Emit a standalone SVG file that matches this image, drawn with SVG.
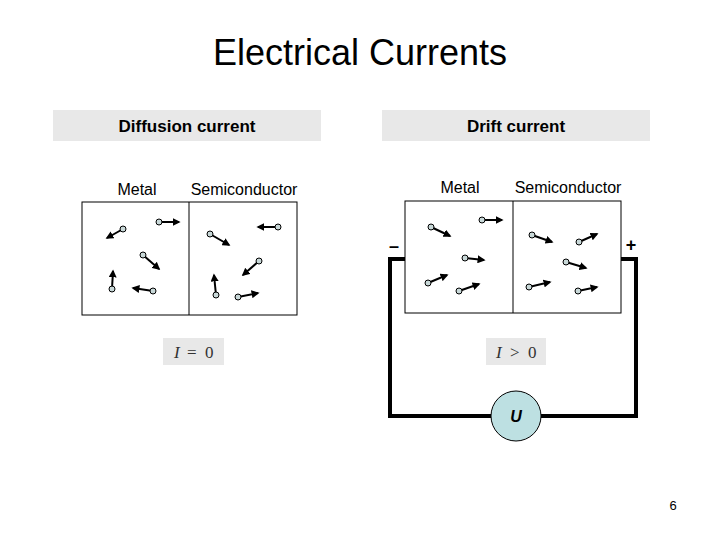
<svg xmlns="http://www.w3.org/2000/svg" width="720" height="540" viewBox="0 0 720 540">
<style>
text{font-family:"Liberation Sans",Arial,sans-serif;fill:#000}
.hdr{fill:#e8e8e8}
.box{fill:#fff;stroke:#000;stroke-width:1}
.p circle{fill:#c8d8d8;stroke:#000;stroke-width:1}
.p line{stroke:#000;stroke-width:2;marker-end:url(#ah)}
.wire{fill:none;stroke:#000;stroke-width:4}
.eq{fill:#e8e8e8}
.mt{font-family:"Liberation Serif",serif;font-size:17px;fill:#333}
</style>
<defs><marker id="ah" viewBox="0 0 10 10" refX="8" refY="5" markerWidth="4" markerHeight="4" orient="auto"><path d="M0,0L10,5L0,10z" fill="#000"/></marker></defs>
<rect width="720" height="540" fill="#fff"/>
<text x="360" y="65" font-size="36" text-anchor="middle">Electrical Currents</text>
<g id="diffusion">
<rect class="hdr" x="53" y="110" width="268" height="31"/>
<text x="187" y="132" font-size="17" font-weight="bold" text-anchor="middle">Diffusion current</text>
<text x="137" y="195" font-size="16" text-anchor="middle">Metal</text>
<text x="244" y="195" font-size="16" text-anchor="middle">Semiconductor</text>
<rect class="box" x="82" y="202" width="215" height="113"/>
<line x1="189" y1="202" x2="189" y2="315" stroke="#000"/>
<rect class="eq" x="163" y="338" width="61" height="27"/>
<text x="174" y="358" class="mt" font-style="italic">I</text>
<text x="187" y="358" class="mt">=</text>
<text x="205" y="358" class="mt">0</text>
</g>
<g id="drift">
<rect class="hdr" x="382" y="110" width="268" height="31"/>
<text x="516" y="132" font-size="17" font-weight="bold" text-anchor="middle">Drift current</text>
<text x="460" y="193" font-size="16" text-anchor="middle">Metal</text>
<text x="568" y="193" font-size="16" text-anchor="middle">Semiconductor</text>
<path class="wire" d="M405,259H390V416H491M541,416H636V259H621"/>
<rect class="box" x="405" y="201" width="216" height="112"/>
<line x1="513" y1="201" x2="513" y2="313" stroke="#000"/>
<text x="394" y="252" font-size="18" font-weight="bold" text-anchor="middle">–</text>
<text x="631" y="251" font-size="18" font-weight="bold" text-anchor="middle">+</text>
<rect class="eq" x="486" y="338" width="60" height="27"/>
<text x="496" y="358" class="mt" font-style="italic">I</text>
<text x="510" y="358" class="mt">&gt;</text>
<text x="528" y="358" class="mt">0</text>
</g>
<g id="source">
<circle cx="516" cy="416" r="25" fill="#bde0e2" stroke="#000" stroke-width="1"/>
<text x="516" y="422" font-size="16" font-weight="bold" font-style="italic" text-anchor="middle">U</text>
</g>
<g id="particles" class="p">
<line x1="123" y1="229" x2="107" y2="238"/><circle cx="123" cy="229" r="3"/>
<line x1="159" y1="222" x2="179" y2="222"/><circle cx="159" cy="222" r="3"/>
<line x1="143" y1="255" x2="159" y2="269"/><circle cx="143" cy="255" r="3"/>
<line x1="112" y1="289" x2="113" y2="271"/><circle cx="112" cy="289" r="3"/>
<line x1="153" y1="291" x2="133" y2="288"/><circle cx="153" cy="291" r="3"/>
<line x1="278" y1="227" x2="258" y2="227"/><circle cx="278" cy="227" r="3"/>
<line x1="210" y1="234" x2="229" y2="245"/><circle cx="210" cy="234" r="3"/>
<line x1="259" y1="261" x2="243" y2="275"/><circle cx="259" cy="261" r="3"/>
<line x1="216" y1="295" x2="214" y2="275"/><circle cx="216" cy="295" r="3"/>
<line x1="238" y1="297" x2="258" y2="293"/><circle cx="238" cy="297" r="3"/>
<line x1="431" y1="227" x2="450" y2="236"/><circle cx="431" cy="227" r="3"/>
<line x1="482" y1="220" x2="502" y2="220"/><circle cx="482" cy="220" r="3"/>
<line x1="465" y1="258" x2="484" y2="260"/><circle cx="465" cy="258" r="3"/>
<line x1="428" y1="283" x2="447" y2="275"/><circle cx="428" cy="283" r="3"/>
<line x1="459" y1="291" x2="479" y2="284"/><circle cx="459" cy="291" r="3"/>
<line x1="532" y1="235" x2="552" y2="242"/><circle cx="532" cy="235" r="3"/>
<line x1="579" y1="242" x2="597" y2="234"/><circle cx="579" cy="242" r="3"/>
<line x1="566" y1="262" x2="586" y2="268"/><circle cx="566" cy="262" r="3"/>
<line x1="529" y1="287" x2="550" y2="282"/><circle cx="529" cy="287" r="3"/>
<line x1="578" y1="291" x2="597" y2="287"/><circle cx="578" cy="291" r="3"/>
</g>
<text x="673" y="510" font-size="13" text-anchor="middle">6</text>
</svg>
